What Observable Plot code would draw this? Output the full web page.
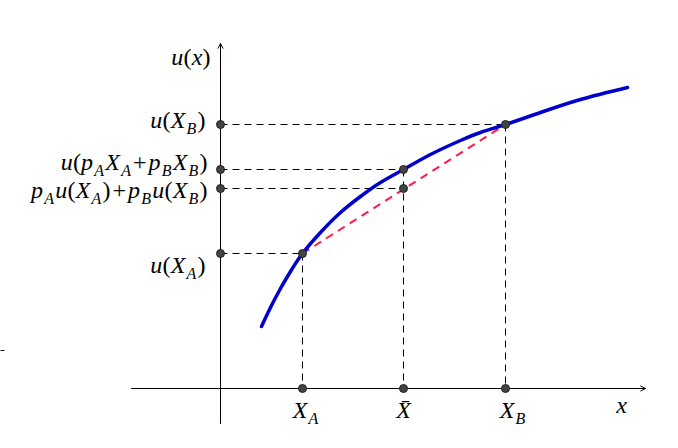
<!DOCTYPE html>
<html>
<head>
<meta charset="utf-8">
<script src="https://cdn.jsdelivr.net/npm/d3@7"></script>
<script src="https://cdn.jsdelivr.net/npm/@observablehq/plot@0.6"></script>
<style>
  html, body { margin: 0; padding: 0; background: #fff; }
  #chart svg { display: block; background: #fff; }
</style>
</head>
<body>
<div id="chart"></div>
<script>
const curveX = [41, 50, 60, 70, 82, 100, 120, 140, 160, 183, 210, 240, 260, 285, 320, 360, 407];
const curveU = [62, 81, 100, 117, 135, 156, 176, 192, 206, 219, 234, 248, 256, 264, 276, 289, 301];

// Key points: X_A, X-bar, X_B and their utilities
const keyNames = ["XA", "Xbar", "XB"];
const keyX = [82, 183, 285];
const keyU = [135, 219, 264];
const chordU = 200;          // p_A u(X_A) + p_B u(X_B)

// Axis extents
const xAxisFrom = -89, xAxisTo = 425;
const yAxisFrom = -35, yAxisTo = 345;

// Labels on the u-axis (right aligned) and on the x-axis
const yLabels = ["u(x)", "u(X_B)", "u(p_AX_A+p_BX_B)", "p_Au(X_A)+p_Bu(X_B)", "u(X_A)"];
const yLabelPos = [331, 268, 226, 198, 123];
const yLabelEnd = [-10, -15, -13, -13, -15];
const xLabels = ["X_A", "X\u0304", "X_B", "x"];
const xLabelPos = [85, 183, 292, 401];
const xLabelY = [-22, -22, -22, -17];

const curve = curveX.map((x, i) => ({x, u: curveU[i]}));
const hDash = [
  {x1: 0, x2: keyX[2], y: keyU[2]},
  {x1: 0, x2: keyX[1], y: keyU[1]},
  {x1: 0, x2: keyX[1], y: chordU},
  {x1: 0, x2: keyX[0], y: keyU[0]}
];
const vDash = [
  {x: keyX[0], y1: keyU[0], y2: 0},
  {x: keyX[1], y1: keyU[1], y2: 0},
  {x: keyX[2], y1: keyU[2], y2: 0}
];
const dots = [
  ...keyU.map(u => ({x: 0, y: u})), {x: 0, y: chordU},
  ...keyX.map(x => ({x, y: 0})),
  ...keyX.map((x, i) => ({x, y: keyU[i]})), {x: keyX[1], y: chordU}
];
const yLab = yLabels.map((t, i) => ({t, x: yLabelEnd[i], y: yLabelPos[i]}));
const xLab = xLabels.map((t, i) => ({t, x: xLabelPos[i], y: xLabelY[i]}));

const font = "Liberation Serif";

const svg = Plot.plot({
  width: 678,
  height: 448,
  margin: 0,
  x: {domain: [-220, 458], range: [0, 678], axis: null},
  y: {domain: [-60, 388], range: [448, 0], axis: null},
  style: {background: "#fff", overflow: "visible"},
  marks: [
    Plot.arrow([{x1: xAxisFrom, y1: 0, x2: xAxisTo, y2: 0}, {x1: 0, y1: yAxisFrom, x2: 0, y2: yAxisTo}],
      {x1: "x1", y1: "y1", x2: "x2", y2: "y2", stroke: "#000", strokeWidth: 1, headLength: 8, headAngle: 55}),
    Plot.link([{x1: -220, x2: -216, y: 38}], {x1: "x1", x2: "x2", y1: "y", y2: "y", stroke: "#000", strokeWidth: 1}),
    Plot.link(hDash, {x1: "x1", x2: "x2", y1: "y", y2: "y", stroke: "#000", strokeWidth: 1, strokeDasharray: "7,5"}),
    Plot.link(vDash, {x1: "x", x2: "x", y1: "y1", y2: "y2", stroke: "#000", strokeWidth: 1, strokeDasharray: "7,5"}),
    Plot.link([{x1: keyX[0], y1: keyU[0], x2: keyX[2], y2: keyU[2]}],
      {x1: "x1", y1: "y1", x2: "x2", y2: "y2", stroke: "#ff1a4a", strokeWidth: 2, strokeDasharray: "8,6"}),
    Plot.line(curve, {x: "x", y: "u", curve: "natural", stroke: "#0000cc", strokeWidth: 3.5, strokeLinecap: "round"}),
    Plot.dot(dots, {x: "x", y: "y", r: 4, fill: "#444", stroke: "#222", strokeWidth: 1}),
    Plot.text(yLab, {x: "x", y: "y", text: "t", textAnchor: "end", fontSize: 24, fontFamily: font, fill: "#000"}),
    Plot.text(xLab, {x: "x", y: "y", text: "t", textAnchor: "middle", fontSize: 24, fontFamily: font, fill: "#000"})
  ]
});

// Render the math-like labels: italic letters, upright symbols, subscripts after "_"
function mathify(el) {
  const s = el.textContent;
  const segs = [];
  for (let i = 0; i < s.length; i++) {
    let c = s[i], sub = false;
    if (c === "_") { sub = true; c = s[++i]; }
    const code = c.charCodeAt(0);
    if (code >= 0x300 && code <= 0x36f && segs.length) { segs[segs.length - 1].t += c; continue; }
    const italic = /[A-Za-z]/.test(c);
    const op = c === "+";
    const last = segs[segs.length - 1];
    if (!op && last && !last.op && last.italic === italic && last.sub === sub) last.t += c;
    else segs.push({t: c, italic, sub, op});
  }
  el.textContent = "";
  let prev = null;
  for (const sg of segs) {
    const ts = document.createElementNS("http://www.w3.org/2000/svg", "tspan");
    ts.textContent = sg.t;
    ts.setAttribute("font-style", sg.italic ? "italic" : "normal");
    let dx = 0.2;
    if (sg.sub) {
      ts.setAttribute("font-size", "16");
      if (!(prev && prev.sub)) ts.setAttribute("dy", "6");
      dx = 1.2;
    } else if (prev && prev.sub) {
      ts.setAttribute("dy", "-6");
      dx = 1.2;
    }
    if (sg.op || (prev && prev.op)) dx = 2;
    if (prev) ts.setAttribute("dx", String(dx));
    prev = sg;
    el.appendChild(ts);
  }
}
svg.querySelectorAll('g[aria-label="text"] text').forEach(mathify);

document.getElementById("chart").appendChild(svg);
</script>
</body>
</html>
